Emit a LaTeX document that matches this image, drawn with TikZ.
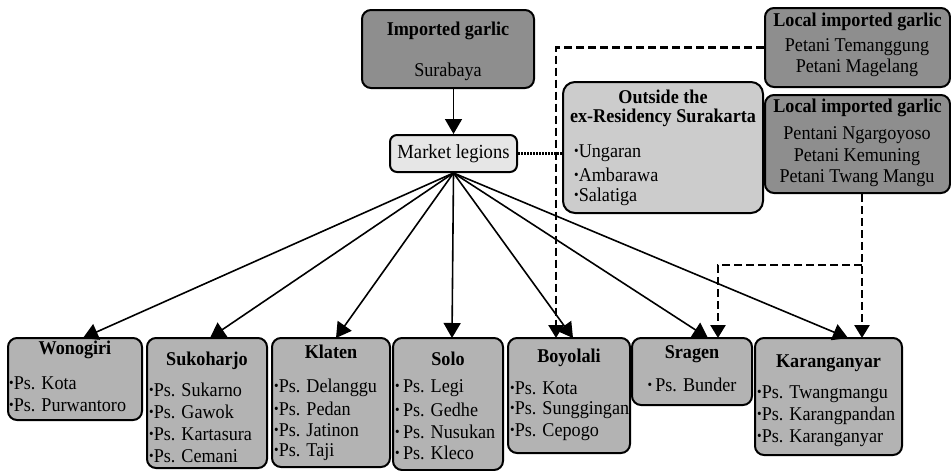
\documentclass[tikz,border=0pt]{standalone}
\usepackage{fontspec}
\setmainfont[FakeStretch=0.93]{Liberation Serif}
\usetikzlibrary{arrows.meta}
\definecolor{darkbox}{RGB}{142,142,142}
\definecolor{midbox}{RGB}{179,179,179}
\definecolor{outbox}{RGB}{204,204,204}
\definecolor{lightbox}{RGB}{230,230,230}
\newcommand\bul{\raisebox{0.22ex}{\scalebox{0.72}{•}}}
\begin{document}
\begin{tikzpicture}[x=1pt,y=-1pt,
  box/.style={draw, line width=2pt, rounded corners=9pt, inner sep=0pt},
  txt/.style={inner sep=0pt, font=\fontsize{19.5}{22}\selectfont},
  ttl/.style={inner sep=0pt, font=\fontsize{19.5}{22}\selectfont\bfseries},
  itm/.style={txt, anchor=west},
  arr/.style={line width=1.6pt, -{Triangle[length=15pt,width=17pt]}},
  dsh/.style={line width=2.6pt, dash pattern=on 8pt off 4pt},
  dsharr/.style={dsh, -{Triangle[length=13pt,width=15pt]}},
  dot/.style={line width=2.6pt, dash pattern=on 1.5pt off 1.5pt}]
\useasboundingbox (0,0) rectangle (951,471);
% boxes
\node[box, fill=darkbox, minimum width=172pt, minimum height=78pt] (imp) at (448,49) {};
\node[box, fill=lightbox, minimum width=127pt, minimum height=37pt, rounded corners=7pt, font=\fontsize{20}{22}\selectfont] (ml) at (453.5,153.5) {Market legions};
\node[box, fill=outbox, minimum width=200pt, minimum height=131pt, rounded corners=12pt] (out) at (663,147.5) {};
\node[box, fill=darkbox, minimum width=185pt, minimum height=79pt] (loc1) at (857.5,47.5) {};
\node[box, fill=darkbox, minimum width=185pt, minimum height=98pt] (loc2) at (857.5,144) {};
\node[box, fill=midbox, minimum width=134pt, minimum height=82pt] (wono) at (75,379) {};
\node[box, fill=midbox, minimum width=120pt, minimum height=130pt] (suko) at (207,403) {};
\node[box, fill=midbox, minimum width=118pt, minimum height=129pt] (klat) at (331,402.5) {};
\node[box, fill=midbox, minimum width=110pt, minimum height=132pt] (solo) at (448,404) {};
\node[box, fill=midbox, minimum width=122pt, minimum height=115pt] (boyo) at (569,395.5) {};
\node[box, fill=midbox, minimum width=120pt, minimum height=67pt] (srag) at (692,371.5) {};
\node[box, fill=midbox, minimum width=147pt, minimum height=117pt] (kara) at (828.5,396.5) {};
% texts
\node[ttl] (impT) at (448,31) {Imported garlic};
\node[txt] (impS) at (448,72) {Surabaya};
\node[ttl] (outT1) at (663,97) {Outside the};
\node[ttl] (outT2) at (663,118) {ex-Residency Surakarta};
\node[itm] (out1) at (574,153) {\bul Ungaran};
\node[itm] (out2) at (574,175) {\bul Ambarawa};
\node[itm] (out3) at (574,197) {\bul Salatiga};
\node[ttl] (loc1T) at (857.5,22) {Local imported garlic};
\node[txt] (loc1a) at (857,47) {Petani Temanggung};
\node[txt] (loc1b) at (857,68) {Petani Magelang};
\node[ttl] (loc2T) at (857.5,108) {Local imported garlic};
\node[txt] (loc2a) at (857,135) {Pentani Ngargoyoso};
\node[txt] (loc2b) at (857,157) {Petani Kemuning};
\node[txt] (loc2c) at (857,178) {Petani Twang Mangu};
\node[ttl] (wonoT) at (75,350) {Wonogiri};
\node[itm] (wono1) at (9,383) {\bul Ps. Kota};
\node[itm] (wono2) at (9,405) {\bul Ps. Purwantoro};
\node[ttl] (sukoT) at (207,361) {Sukoharjo};
\node[itm] (suko1) at (149,390) {\bul Ps. Sukarno};
\node[itm] (suko2) at (149,412) {\bul Ps. Gawok};
\node[itm] (suko3) at (149,434) {\bul Ps. Kartasura};
\node[itm] (suko4) at (149,456) {\bul Ps. Cemani};
\node[ttl] (klatT) at (331,352) {Klaten};
\node[itm] (klat1) at (274,388) {\bul Ps. Delanggu};
\node[itm] (klat2) at (274,409) {\bul Ps. Pedan};
\node[itm] (klat3) at (274,430) {\bul Ps. Jatinon};
\node[itm] (klat4) at (274,452) {\bul Ps. Taji};
\node[ttl] (soloT) at (448,359) {Solo};
\node[itm] (solo1) at (395,388) {\bul\,Ps. Legi};
\node[itm] (solo2) at (395,410) {\bul\,Ps. Gedhe};
\node[itm] (solo3) at (395,432) {\bul\,Ps. Nusukan};
\node[itm] (solo4) at (395,453) {\bul\,Ps. Kleco};
\node[ttl] (boyoT) at (569,358) {Boyolali};
\node[itm] (boyo1) at (510,388) {\bul Ps. Kota};
\node[itm] (boyo2) at (510,410) {\bul Ps. Sunggingan};
\node[itm] (boyo3) at (510,432) {\bul Ps. Cepogo};
\node[ttl] (sragT) at (692,354) {Sragen};
\node[txt] (srag1) at (692,385) {\bul\,Ps. Bunder};
\node[ttl] (karaT) at (828.5,363) {Karanganyar};
\node[itm] (kara1) at (757,394) {\bul Ps. Twangmangu};
\node[itm] (kara2) at (757,416) {\bul Ps. Karangpandan};
\node[itm] (kara3) at (757,438) {\bul Ps. Karanganyar};
% arrow end points
\coordinate (wonoE) at (83,338);
\coordinate (sukoE) at (210,338);
\coordinate (klatE) at (336,338);
\coordinate (soloE) at (452,338);
\coordinate (boyoE) at (573,338);
\coordinate (boyoD) at (556,338);
\coordinate (sragE) at (708,338);
\coordinate (sragD) at (718,338);
\coordinate (karaE) at (848,338);
\coordinate (karaD) at (862,338);
\coordinate (brk) at (862,265);
% connectors
\draw[arr] (imp.south -| ml.north) -- (ml.north);
\foreach \t in {wonoE,sukoE,klatE,soloE,boyoE,sragE,karaE}
  \draw[arr] (ml.south) -- (\t);
\draw[dot] (ml.east) -- (ml.east -| out.west);
\draw[dsharr] (loc1.west) -- (loc1.west -| boyoD) -- (boyoD);
\draw[dsharr] (loc2.south -| karaD) -- (karaD);
\draw[dsharr] (brk) -- (brk -| sragD) -- (sragD);
\end{tikzpicture}
\end{document}
